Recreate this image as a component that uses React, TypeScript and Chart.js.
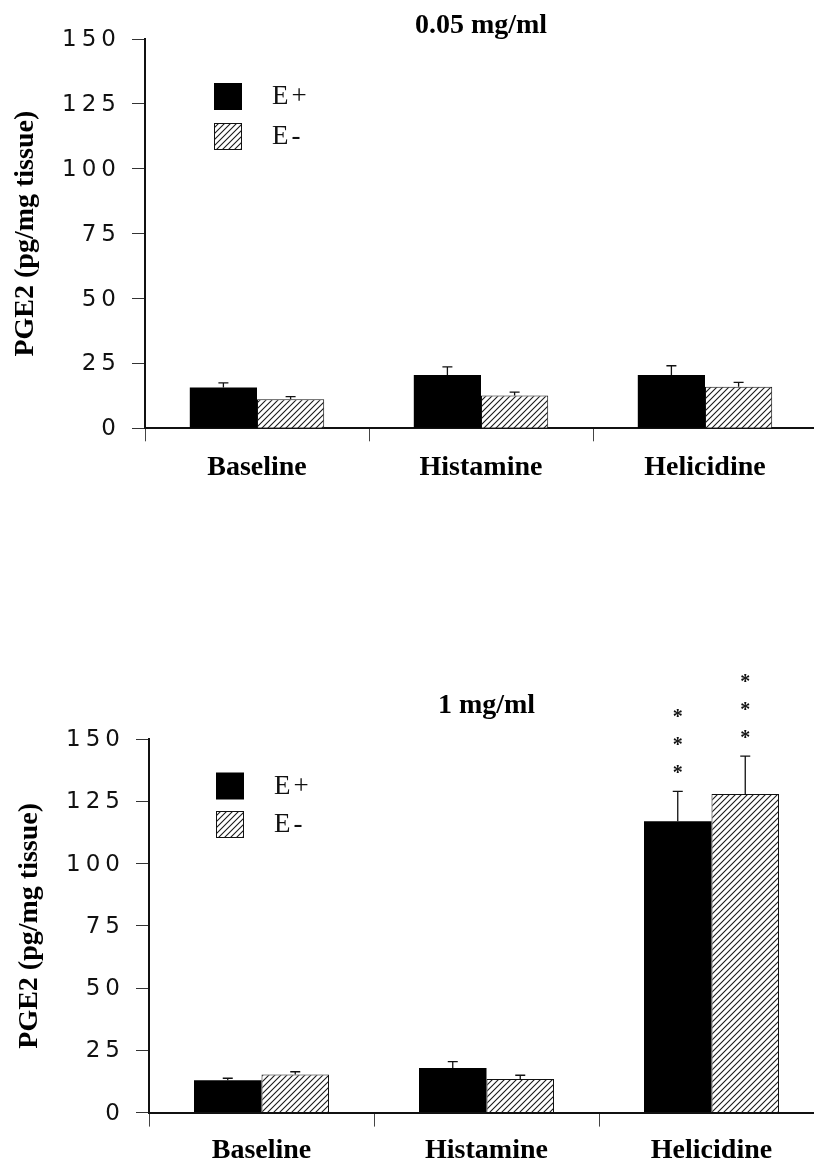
import React, { useEffect, useRef } from 'react';
import { Chart, registerables } from 'chart.js';

Chart.register(...registerables);

// ---------------- data ----------------
const categories = ['Baseline', 'Histamine', 'Helicidine'];
const seriesLabels = ['E+', 'E-'];
const yTicks = [0, 25, 50, 75, 100, 125, 150];
const yAxisTitle = 'PGE2 (pg/mg tissue)';

const lowTitle = '0.05 mg/ml';
const lowEPlus = [15.7, 20.5, 20.5];
const lowEPlusErr = [1.8, 3.2, 3.6];
const lowEMinus = [11.2, 12.6, 16.0];
const lowEMinusErr = [1.0, 1.3, 1.7];
const lowEPlusStars = [0, 0, 0];
const lowEMinusStars = [0, 0, 0];

const highTitle = '1 mg/ml';
const highEPlus = [13.0, 17.9, 117.0];
const highEPlusErr = [0.8, 2.6, 12.0];
const highEMinus = [15.3, 13.5, 127.9];
const highEMinusErr = [1.1, 1.5, 15.2];
const highEPlusStars = [0, 0, 3];
const highEMinusStars = [0, 0, 3];

// ---------------- style ----------------
const SERIF = "'Liberation Serif', 'Times New Roman', serif";
const SANS = "'DejaVu Sans', sans-serif";

type PanelCfg = {
  title: string;
  plus: number[];
  plusErr: number[];
  minus: number[];
  minusErr: number[];
  plusStars: number[];
  minusStars: number[];
  top: number;
  width: number;
  height: number;
  axisWidth: number;
  xAxisHeight: number;
  titlePad: { top: number; bottom: number };
  yTitlePad: number;
  xTickLen: number;
  xTickPad: number;
  legend: { dx: number; dy: number; pitch: number };
};

const panels: PanelCfg[] = [
  {
    title: lowTitle,
    plus: lowEPlus,
    plusErr: lowEPlusErr,
    minus: lowEMinus,
    minusErr: lowEMinusErr,
    plusStars: lowEPlusStars,
    minusStars: lowEMinusStars,
    top: 0,
    width: 817,
    height: 500,
    axisWidth: 145,
    xAxisHeight: 500 - 428.3,
    titlePad: { top: 12, bottom: -1 },
    yTitlePad: 9,
    xTickLen: 13,
    xTickPad: 10,
    legend: { dx: 69, dy: 44, pitch: 40 },
  },
  {
    title: highTitle,
    plus: highEPlus,
    plusErr: highEPlusErr,
    minus: highEMinus,
    minusErr: highEMinusErr,
    plusStars: highEPlusStars,
    minusStars: highEMinusStars,
    top: 660,
    width: 824,
    height: 520,
    axisWidth: 149,
    xAxisHeight: 520 - 452.6,
    titlePad: { top: 31.5, bottom: 19.5 },
    yTitlePad: 13,
    xTickLen: 14,
    xTickPad: 7,
    legend: { dx: 67, dy: 33.5, pitch: 38.5 },
  },
];

function makeHatch(ctx: CanvasRenderingContext2D): CanvasPattern | string {
  const c = document.createElement('canvas');
  c.width = 6;
  c.height = 6;
  const g = c.getContext('2d');
  if (!g) return '#fff';
  g.fillStyle = '#ffffff';
  g.fillRect(0, 0, 6, 6);
  g.strokeStyle = '#1a1a1a';
  g.lineWidth = 1.1;
  g.beginPath();
  g.moveTo(-1, 7);
  g.lineTo(7, -1);
  g.moveTo(-1, 1);
  g.lineTo(1, -1);
  g.moveTo(5, 7);
  g.lineTo(7, 5);
  g.stroke();
  return ctx.createPattern(c, 'repeat') || '#fff';
}

function makeOverlay(cfg: PanelCfg) {
  const errs = [cfg.plusErr, cfg.minusErr];
  const stars = [cfg.plusStars, cfg.minusStars];
  return {
    id: 'overlay',
    afterDatasetsDraw(chart: any) {
      const ctx = chart.ctx as CanvasRenderingContext2D;
      const yScale = chart.scales.y;
      ctx.save();
      ctx.strokeStyle = '#111';
      ctx.lineWidth = 1.3;
      chart.data.datasets.forEach((ds: any, di: number) => {
        const meta = chart.getDatasetMeta(di);
        meta.data.forEach((bar: any, i: number) => {
          const v = ds.data[i];
          const e = errs[di][i];
          const yTop = bar.y;
          const yCap = yScale.getPixelForValue(v + e);
          ctx.beginPath();
          ctx.moveTo(bar.x, yTop);
          ctx.lineTo(bar.x, yCap);
          ctx.moveTo(bar.x - 5, yCap);
          ctx.lineTo(bar.x + 5, yCap);
          ctx.stroke();
        });
      });
      ctx.restore();
    },
    afterDraw(chart: any) {
      const ctx = chart.ctx as any;
      const yScale = chart.scales.y;
      const area = chart.chartArea;

      // y tick labels (letter-spaced)
      ctx.save();
      ctx.font = `23px ${SANS}`;
      ctx.letterSpacing = '5px';
      ctx.fillStyle = '#111';
      ctx.textAlign = 'right';
      ctx.textBaseline = 'middle';
      yScale.ticks.forEach((t: any) => {
        const y = yScale.getPixelForValue(t.value);
        ctx.fillText(String(t.value), area.left - 24, y + 1);
      });
      ctx.restore();

      // legend
      const lg = cfg.legend;
      const x0 = area.left + lg.dx;
      chart.data.datasets.forEach((ds: any, i: number) => {
        const y0 = area.top + lg.dy + i * lg.pitch;
        ctx.save();
        ctx.fillStyle = ds.backgroundColor;
        ctx.fillRect(x0, y0, 28, 27);
        if (ds.borderWidth) {
          ctx.strokeStyle = '#111';
          ctx.lineWidth = 1;
          ctx.strokeRect(x0 + 0.5, y0 + 0.5, 27, 26);
        }
        ctx.fillStyle = '#111';
        ctx.font = `27px ${SERIF}`;
        ctx.letterSpacing = '3px';
        ctx.textAlign = 'left';
        ctx.textBaseline = 'middle';
        ctx.fillText(ds.label, x0 + 58, y0 + 14);
        ctx.restore();
      });

      // significance stars
      ctx.save();
      ctx.fillStyle = '#111';
      ctx.font = `bold 20px ${SERIF}`;
      ctx.textAlign = 'center';
      ctx.textBaseline = 'alphabetic';
      chart.data.datasets.forEach((ds: any, di: number) => {
        const meta = chart.getDatasetMeta(di);
        meta.data.forEach((bar: any, i: number) => {
          const n = stars[di][i];
          if (!n) return;
          const yCap = yScale.getPixelForValue(ds.data[i] + errs[di][i]);
          for (let k = 0; k < n; k++) {
            const cy = yCap - 21 - k * 28;
            ctx.fillText('*', bar.x, cy + 8.5);
          }
        });
      });
      ctx.restore();
    },
  };
}

function Panel({ cfg }: { cfg: PanelCfg }) {
  const ref = useRef<HTMLCanvasElement | null>(null);

  useEffect(() => {
    const canvas = ref.current;
    if (!canvas) return;
    const ctx = canvas.getContext('2d');
    if (!ctx) return;
    const hatch = makeHatch(ctx);

    const chart = new Chart(canvas, {
      type: 'bar',
      data: {
        labels: categories,
        datasets: [
          {
            label: seriesLabels[0],
            data: cfg.plus,
            backgroundColor: '#000000',
            borderWidth: 0,
            barPercentage: 1,
            categoryPercentage: 0.6,
          },
          {
            label: seriesLabels[1],
            data: cfg.minus,
            backgroundColor: hatch as any,
            borderColor: '#111111',
            borderWidth: 1,
            barPercentage: 1,
            categoryPercentage: 0.6,
          },
        ],
      },
      options: {
        responsive: false,
        animation: false,
        devicePixelRatio: 1,
        events: [],
        layout: { padding: 0 },
        plugins: {
          legend: { display: false },
          tooltip: { enabled: false },
          title: {
            display: true,
            text: cfg.title,
            fullSize: false,
            align: 'center',
            color: '#000',
            font: { family: SERIF, size: 28, weight: 'bold', lineHeight: 1 },
            padding: cfg.titlePad,
          },
        },
        scales: {
          x: {
            type: 'category',
            grid: {
              display: true,
              drawOnChartArea: false,
              drawTicks: true,
              tickLength: cfg.xTickLen,
              color: '#444',
              lineWidth: 1,
              offset: true,
            },
            border: { display: true, color: '#111', width: 2 },
            ticks: {
              color: '#000',
              font: { family: SERIF, size: 28, weight: 'bold', lineHeight: 1.2 },
              padding: cfg.xTickPad,
              maxRotation: 0,
              minRotation: 0,
              autoSkip: false,
            },
            afterFit: (s: any) => {
              s.height = cfg.xAxisHeight;
            },
          },
          y: {
            type: 'linear',
            min: 0,
            max: 150,
            grid: {
              display: true,
              drawOnChartArea: false,
              drawTicks: true,
              tickLength: 13,
              color: '#333',
              lineWidth: 1,
            },
            border: { display: true, color: '#111', width: 2 },
            ticks: { display: false },
            afterBuildTicks: (s: any) => {
              s.ticks = yTicks.map((v) => ({ value: v }));
            },
            afterFit: (s: any) => {
              s.width = cfg.axisWidth;
            },
            title: {
              display: true,
              text: yAxisTitle,
              color: '#000',
              font: { family: SERIF, size: 28, weight: 'bold', lineHeight: 1.2 },
              padding: { top: cfg.yTitlePad, bottom: 0 },
            },
          },
        },
      } as any,
      plugins: [makeOverlay(cfg) as any],
    });

    return () => {
      chart.destroy();
    };
  }, [cfg]);

  return (
    <canvas
      ref={ref}
      width={cfg.width}
      height={cfg.height}
      style={{
        position: 'absolute',
        left: 0,
        top: cfg.top,
        width: cfg.width,
        height: cfg.height,
        display: 'block',
      }}
    />
  );
}

export default function App() {
  return (
    <div
      style={{
        position: 'absolute',
        left: 0,
        top: 0,
        width: 814,
        height: 1164,
        overflow: 'hidden',
        background: '#ffffff',
      }}
    >
      {panels.map((p, i) => (
        <Panel key={i} cfg={p} />
      ))}
    </div>
  );
}
